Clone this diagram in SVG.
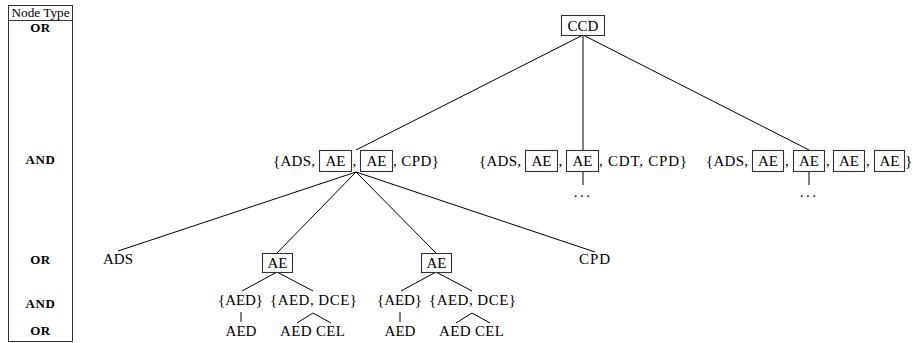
<svg xmlns="http://www.w3.org/2000/svg" width="913" height="343" viewBox="0 0 913 343" font-family="'Liberation Serif', 'DejaVu Serif', 'Times New Roman', serif">
<style>
text{fill:#000}
.t{font-size:15px}
.m{text-anchor:middle}
.b{font-size:13px;font-weight:bold;text-anchor:middle;letter-spacing:0.6px}
.h{font-size:12px;text-anchor:middle}
.box{fill:#fff;stroke:#333;stroke-width:1.1}
.ln{stroke:#000;stroke-width:1;fill:none}
.dot{fill:#000}
</style>
<rect width="913" height="343" fill="#fff"/>
<g id="legend">
<rect x="8.5" y="5.5" width="64" height="336" fill="none" stroke="#333" stroke-width="1"/>
<line x1="8.5" y1="20.5" x2="72.5" y2="20.5" stroke="#333" stroke-width="1"/>
<text class="h" x="40.5" y="17" textLength="58" lengthAdjust="spacingAndGlyphs">Node Type</text>
<text class="b" x="40.5" y="32">OR</text>
<text class="b" x="40.5" y="164">AND</text>
<text class="b" x="40.5" y="264">OR</text>
<text class="b" x="40.5" y="308">AND</text>
<text class="b" x="40.5" y="335">OR</text>
</g>
<g id="connectors" class="ln">
<line x1="583" y1="35" x2="356" y2="150"/>
<line x1="583" y1="35" x2="583" y2="150"/>
<line x1="583" y1="35" x2="809" y2="150"/>
<line x1="583" y1="172" x2="583" y2="185"/>
<line x1="809" y1="172" x2="809" y2="185"/>
<line x1="356" y1="172" x2="118" y2="251"/>
<line x1="356" y1="172" x2="277" y2="253"/>
<line x1="356" y1="172" x2="436" y2="253"/>
<line x1="356" y1="172" x2="595" y2="252"/>
<line x1="277" y1="272" x2="242" y2="291"/>
<line x1="277" y1="272" x2="313" y2="291"/>
<line x1="436" y1="272" x2="401" y2="291"/>
<line x1="436" y1="272" x2="472" y2="291"/>
<line x1="241" y1="312" x2="241" y2="322"/>
<line x1="313" y1="313" x2="297" y2="323"/>
<line x1="313" y1="313" x2="331" y2="323"/>
<line x1="400" y1="312" x2="400" y2="322"/>
<line x1="472" y1="313" x2="456" y2="323"/>
<line x1="472" y1="313" x2="490" y2="323"/>
</g>
<g id="ccd">
<rect class="box" x="561.5" y="15.5" width="43" height="20"/>
<text class="t m" x="583" y="30.5">CCD</text>
</g>
<g id="and-left">
<text class="t" x="273" y="166" textLength="42">{ADS,</text>
<rect class="box" x="319.5" y="150.5" width="32" height="21"/>
<text class="t m" x="335.5" y="166">AE</text>
<text class="t" x="352.5" y="166">,</text>
<rect class="box" x="360.5" y="150.5" width="32" height="21"/>
<text class="t m" x="376.5" y="166">AE</text>
<text class="t" x="393" y="166" textLength="46">, CPD}</text>
</g>
<g id="and-middle">
<text class="t" x="479" y="166" textLength="42">{ADS,</text>
<rect class="box" x="525.5" y="150.5" width="32" height="21"/>
<text class="t m" x="541.5" y="166">AE</text>
<text class="t" x="558.5" y="166">,</text>
<rect class="box" x="566.5" y="150.5" width="32" height="21"/>
<text class="t m" x="582.5" y="166">AE</text>
<text class="t" x="599" y="166" textLength="88">, CDT, CPD}</text>
<text class="t m dot" x="583" y="197" letter-spacing="2.5">...</text>
</g>
<g id="and-right">
<text class="t" x="706" y="166" textLength="42">{ADS,</text>
<rect class="box" x="752.5" y="150.5" width="31" height="21"/>
<text class="t m" x="768" y="166">AE</text>
<text class="t" x="785" y="166">,</text>
<rect class="box" x="793.5" y="150.5" width="31" height="21"/>
<text class="t m" x="809" y="166">AE</text>
<text class="t" x="826" y="166">,</text>
<rect class="box" x="833.5" y="150.5" width="31" height="21"/>
<text class="t m" x="849" y="166">AE</text>
<text class="t" x="866" y="166">,</text>
<rect class="box" x="874.5" y="150.5" width="30" height="21"/>
<text class="t m" x="889.5" y="166">AE</text>
<text class="t" x="905" y="166">}</text>
<text class="t m dot" x="809" y="197" letter-spacing="2.5">...</text>
</g>
<g id="ads">
<text class="t" x="103" y="264">ADS</text>
</g>
<g id="ae-left">
<rect class="box" x="262.5" y="253.5" width="30" height="19"/>
<text class="t m" x="277.5" y="268">AE</text>
</g>
<g id="ae-right">
<rect class="box" x="421.5" y="253.5" width="30" height="19"/>
<text class="t m" x="436.5" y="268">AE</text>
</g>
<g id="cpd">
<text class="t" x="579" y="264" textLength="31">CPD</text>
</g>
<g id="sub-left">
<text class="t" x="218" y="305" textLength="45">{AED}</text>
<text class="t" x="270" y="305" textLength="87">{AED, DCE}</text>
<text class="t m" x="241" y="336">AED</text>
<text class="t" x="280" y="336" textLength="65">AED CEL</text>
</g>
<g id="sub-right">
<text class="t" x="377" y="305" textLength="45">{AED}</text>
<text class="t" x="429" y="305" textLength="87">{AED, DCE}</text>
<text class="t m" x="400" y="336">AED</text>
<text class="t" x="439" y="336" textLength="65">AED CEL</text>
</g>
</svg>
